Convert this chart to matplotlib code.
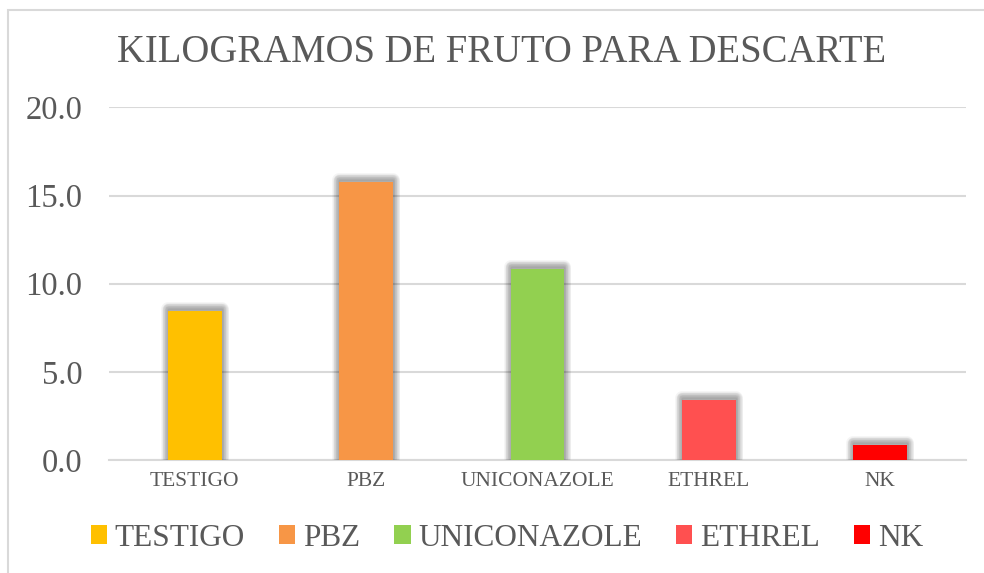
import matplotlib
matplotlib.use("Agg")
import matplotlib.pyplot as plt
from matplotlib.patches import Patch, Rectangle
from matplotlib.transforms import ScaledTranslation

categories = ["TESTIGO", "PBZ", "UNICONAZOLE", "ETHREL", "NK"]
values = [8.45, 15.75, 10.85, 3.40, 0.85]
colors = ["#FFC000", "#F79646", "#92D050", "#FF5050", "#FF0000"]
yticks = [0, 5, 10, 15, 20]
title = "KILOGRAMOS DE FRUTO PARA DESCARTE"

TXT = "#595959"
FONT = "Liberation Serif"

fig = plt.figure(figsize=(9.84, 5.73), dpi=100)
W, H = 984, 573
ax = fig.add_axes([109 / W, 1 - 460 / H, (966 - 109) / W, (460 - 107.4) / H])

x = list(range(len(categories)))
bw = 0.315

# soft shadow layers (blurred outer shadow, slightly raised)
shadow_tr = ax.transData + ScaledTranslation(0, 1.5 / 72, fig.dpi_scale_trans)
for lw in [10, 9, 8, 7, 6, 5, 4, 3, 2, 1]:
    ax.bar(x, values, width=bw, facecolor="none", edgecolor=(0, 0, 0, 0.04),
           linewidth=lw, zorder=2, transform=shadow_tr, joinstyle="round")

ax.bar(x, values, width=bw, color=colors, zorder=3, linewidth=0)

ax.set_xlim(-0.5, len(categories) - 0.5)
ax.set_ylim(0, 20)
ax.set_yticks(yticks)
ax.set_yticklabels([f"{v:.1f}" for v in yticks], fontsize=23.5, color=TXT, family=FONT)
ax.set_xticks(x)
ax.set_xticklabels(categories, fontsize=15.5, color=TXT, family=FONT)
ax.tick_params(axis="y", length=0, pad=19)
ax.tick_params(axis="x", length=0, pad=9)
ax.grid(axis="y", color="#D9D9D9", linewidth=1.5, zorder=0)
ax.set_axisbelow(True)
for s in ["top", "right", "left"]:
    ax.spines[s].set_visible(False)
ax.spines["bottom"].set_color("#D9D9D9")
ax.spines["bottom"].set_linewidth(1.5)
ax.spines["bottom"].set_zorder(1)

fig.text(502 / W, 1 - 52 / H, title, ha="center", va="center",
         fontsize=27.8, color=TXT, family=FONT)

handles = [Patch(facecolor=c, edgecolor="none") for c in colors]
fig.legend(handles, categories, loc="center", bbox_to_anchor=(507 / W, 1 - 538 / H),
           ncol=5, frameon=False, prop={"family": FONT, "size": 22.5},
           labelcolor=TXT, handlelength=0.52, handleheight=0.52,
           handletextpad=0.25, columnspacing=1.09, borderpad=0)

fig.add_artist(Rectangle((8 / W, -0.1), 1.2, 1 - 10 / H + 0.1, transform=fig.transFigure,
                         fill=False, edgecolor="#D9D9D9", linewidth=1.5))

fig.savefig("out.png", dpi=100)
